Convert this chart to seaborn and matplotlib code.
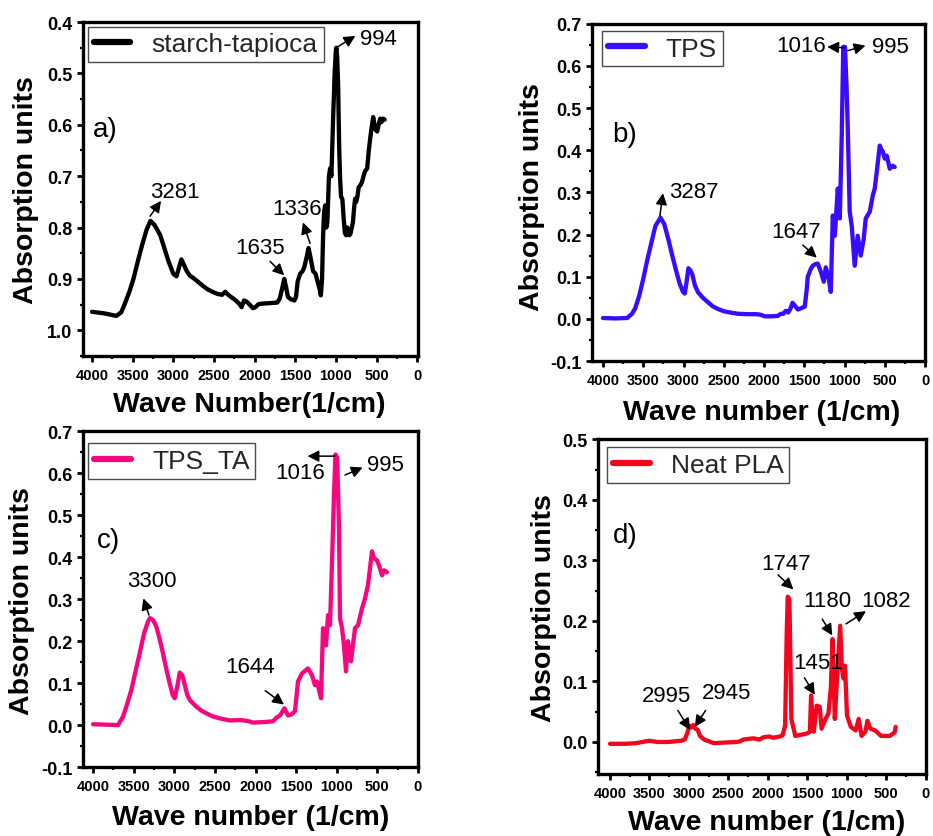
import numpy as np
import pandas as pd
import matplotlib
matplotlib.use("Agg")
import matplotlib.pyplot as plt
from matplotlib.ticker import MultipleLocator, FormatStrFormatter
import seaborn as sns

# ---------------- spectra (wavenumber in 1/cm, absorbance) ----------------
starch_wn = [4000, 3850, 3700, 3640, 3600, 3540, 3490, 3430, 3385, 3330, 3281, 3230,
             3160, 3110, 3060, 3000, 2960, 2925, 2900, 2870, 2840, 2800, 2740, 2700,
             2640, 2580, 2520, 2460, 2400, 2360, 2330, 2290, 2230, 2180, 2160, 2130,
             2100, 2060, 2020, 1990, 1950, 1900, 1800, 1720, 1690, 1660, 1635, 1610,
             1590, 1550, 1510, 1490, 1470, 1440, 1410, 1390, 1360, 1336, 1310, 1280,
             1250, 1225, 1200, 1185, 1170, 1157, 1145, 1132, 1118, 1105, 1085, 1071,
             1055, 1034, 1015, 1000, 994, 985, 972, 960, 948, 936, 920, 905, 890,
             875, 860, 848, 835, 820, 805, 790, 775, 763, 750, 735, 720, 700, 680,
             660, 640, 615, 595, 578, 560, 541, 525, 510, 492, 475, 455, 440, 418, 400]
starch_ab = [0.964, 0.967, 0.972, 0.965, 0.950, 0.925, 0.900, 0.862, 0.835, 0.805, 0.787, 0.795,
             0.815, 0.840, 0.865, 0.890, 0.895, 0.875, 0.862, 0.872, 0.883, 0.893, 0.900, 0.905,
             0.913, 0.920, 0.925, 0.929, 0.931, 0.925, 0.930, 0.935, 0.942, 0.950, 0.955, 0.942,
             0.944, 0.950, 0.957, 0.955, 0.949, 0.948, 0.947, 0.946, 0.938, 0.918, 0.900, 0.918,
             0.935, 0.940, 0.942, 0.935, 0.905, 0.890, 0.885, 0.878, 0.858, 0.840, 0.860, 0.885,
             0.890, 0.905, 0.920, 0.932, 0.900, 0.815, 0.770, 0.757, 0.800, 0.790, 0.700, 0.685,
             0.700, 0.588, 0.500, 0.455, 0.450, 0.465, 0.524, 0.640, 0.705, 0.740, 0.745, 0.780, 0.810,
             0.815, 0.800, 0.810, 0.815, 0.812, 0.800, 0.790, 0.760, 0.744, 0.750, 0.740, 0.722, 0.718, 0.712,
             0.700, 0.690, 0.685, 0.650, 0.627, 0.605, 0.585, 0.600, 0.610, 0.613, 0.600, 0.588, 0.595, 0.588, 0.590]

tps_wn = [4000, 3850, 3700, 3640, 3600, 3550, 3500, 3450, 3400, 3350, 3287, 3240,
          3190, 3140, 3100, 3050, 3010, 2985, 2960, 2940, 2915, 2890, 2860, 2820,
          2760, 2700, 2640, 2580, 2500, 2420, 2325, 2200, 2100, 2050, 1990, 1900,
          1830, 1790, 1760, 1730, 1700, 1670, 1647, 1620, 1580, 1530, 1494, 1470,
          1457, 1420, 1395, 1360, 1333, 1295, 1258, 1233, 1215, 1196, 1171, 1146,
          1121, 1084, 1059, 1035, 1016, 995, 975, 960, 936, 911, 874, 837, 799,
          762, 737, 687, 650, 625, 600, 563, 540, 526, 501, 476, 455, 439, 402, 377]
tps_ab = [0.002, 0.001, 0.002, 0.012, 0.025, 0.055, 0.095, 0.140, 0.180, 0.220, 0.240, 0.225,
          0.190, 0.150, 0.120, 0.085, 0.065, 0.060, 0.090, 0.120, 0.115, 0.105, 0.080, 0.063,
          0.050, 0.040, 0.030, 0.024, 0.018, 0.015, 0.012, 0.011, 0.011, 0.010, 0.006, 0.006,
          0.007, 0.012, 0.012, 0.019, 0.015, 0.025, 0.038, 0.032, 0.022, 0.026, 0.029, 0.070,
          0.100, 0.118, 0.126, 0.130, 0.131, 0.112, 0.088, 0.122, 0.110, 0.095, 0.064, 0.245,
          0.197, 0.309, 0.238, 0.435, 0.645, 0.645, 0.550, 0.451, 0.254, 0.221, 0.126, 0.197, 0.150,
          0.190, 0.238, 0.254, 0.292, 0.309, 0.349, 0.411, 0.400, 0.397, 0.380, 0.387, 0.370, 0.356, 0.363, 0.360]

tpsta_wn = [4000, 3850, 3692, 3631, 3580, 3528, 3480, 3426, 3370, 3323, 3300, 3260,
            3221, 3180, 3139, 3100, 3056, 3020, 2995, 2960, 2933, 2900, 2870, 2840,
            2810, 2760, 2728, 2670, 2605, 2530, 2441, 2314, 2195, 2100, 2031, 1908,
            1785, 1740, 1698, 1644, 1600, 1560, 1514, 1477, 1428, 1354, 1305, 1268,
            1243, 1194, 1169, 1132, 1108, 1083, 1058, 1034, 1016, 995, 972, 960,
            935, 911, 886, 862, 825, 775, 738, 689, 652, 615, 566, 542, 505, 480,
            443, 418, 382]
tpsta_ab = [0.002, 0.001, 0.000, 0.020, 0.050, 0.084, 0.125, 0.171, 0.220, 0.247, 0.255, 0.250,
            0.235, 0.205, 0.171, 0.135, 0.099, 0.072, 0.064, 0.095, 0.125, 0.118, 0.095, 0.072,
            0.060, 0.050, 0.044, 0.035, 0.028, 0.021, 0.016, 0.011, 0.012, 0.010, 0.006, 0.007,
            0.009, 0.018, 0.023, 0.040, 0.023, 0.025, 0.033, 0.104, 0.123, 0.135, 0.119, 0.095,
            0.104, 0.064, 0.231, 0.190, 0.262, 0.238, 0.390, 0.548, 0.645, 0.638, 0.470, 0.255,
            0.231, 0.190, 0.128, 0.200, 0.152, 0.231, 0.238, 0.278, 0.302, 0.334, 0.414, 0.398, 0.393, 0.381,
            0.357, 0.369, 0.364]

pla_wn = [4000, 3800, 3671, 3506, 3400, 3259, 3100, 3053, 3020, 2995, 2970, 2945,
          2920, 2888, 2860, 2806, 2683, 2550, 2393, 2353, 2312, 2250, 2183, 2106,
          2050, 1985, 1930, 1850, 1812, 1780, 1760, 1747, 1726, 1701, 1651, 1503,
          1466, 1451, 1430, 1417, 1380, 1342, 1318, 1268, 1231, 1200, 1180, 1150,
          1120, 1082, 1060, 1040, 1021, 996, 947, 885, 848, 811, 762, 737, 700,
          638, 564, 452, 391, 378]
pla_ab = [-0.003, -0.003, -0.002, 0.002, 0.000, 0.000, 0.002, 0.004, 0.015, 0.027, 0.024, 0.028,
          0.022, 0.020, 0.010, 0.004, -0.002, -0.001, 0.000, 0.001, 0.004, 0.005, 0.006, 0.004,
          0.008, 0.009, 0.007, 0.009, 0.011, 0.027, 0.180, 0.240, 0.236, 0.038, 0.010, 0.014,
          0.017, 0.077, 0.030, 0.017, 0.060, 0.058, 0.022, 0.038, 0.047, 0.090, 0.170, 0.038,
          0.110, 0.192, 0.120, 0.105, 0.126, 0.044, 0.025, 0.019, 0.038, 0.010, 0.017, 0.035, 0.022,
          0.019, 0.010, 0.010, 0.016, 0.025]

# peak labels: (text, text x, text y, arrow tail x, tail y, head x, head y) in data units
starch_peaks = [("3281", 2980, 0.730, 3286, 0.778, 3150, 0.748),
                ("1635", 1932, 0.839, 1809, 0.866, 1635, 0.893),
                ("1336", 1480, 0.763, 1317, 0.831, 1405, 0.790),
                ("994", 480, 0.432, 985, 0.449, 760, 0.427)]
tps_peaks = [("3287", 2870, 0.302, 3293, 0.245, 3256, 0.298),
             ("1647", 1605, 0.207, 1519, 0.175, 1345, 0.145),
             ("1016", 1540, 0.648, 1000, 0.643, 1215, 0.645),
             ("995", 430, 0.646, 960, 0.636, 740, 0.648)]
tpsta_peaks = [("3300", 3274, 0.345, 3311, 0.262, 3380, 0.302),
               ("1644", 2068, 0.140, 1880, 0.082, 1649, 0.049),
               ("1016", 1452, 0.601, 1022, 0.641, 1360, 0.641),
               ("995", 406, 0.620, 898, 0.596, 680, 0.614)]
pla_peaks = [("1747", 1763, 0.294, 1870, 0.276, 1676, 0.252),
             ("1180", 1244, 0.233, 1310, 0.203, 1182, 0.176),
             ("1082", 502, 0.233, 1009, 0.195, 755, 0.216),
             ("1451", 1367, 0.132, 1535, 0.106, 1404, 0.078),
             ("2995", 3283, 0.076, 3140, 0.052, 2986, 0.020),
             ("2945", 2517, 0.081, 2789, 0.052, 2925, 0.025)]

x_ticks = [0, 500, 1000, 1500, 2000, 2500, 3000, 3500, 4000]

sns.set_theme(style="ticks")
plt.rcParams["font.family"] = ["Liberation Sans", "DejaVu Sans"]
plt.rcParams["axes.unicode_minus"] = False

fig = plt.figure(figsize=(9.33, 8.37), dpi=100)
fig.patch.set_facecolor("white")


def draw_panel(rect, wn, ab, color, name, tag, tag_xy, xlim, ylim, yticks,
               xlabel, xlabel_xy, ylabel_xy, legend_anchor, peaks):
    ax = fig.add_axes(rect)
    df = pd.DataFrame({"wn": wn, "ab": ab})
    sns.lineplot(data=df, x="wn", y="ab", ax=ax, color=color, lw=3.1,
                 sort=False, estimator=None, label=name)
    ax.set_xlim(*xlim)
    ax.set_ylim(*ylim)
    ax.set_xticks(x_ticks)
    ax.set_yticks(yticks)
    ax.yaxis.set_major_formatter(FormatStrFormatter("%.1f"))
    ax.yaxis.set_minor_locator(MultipleLocator(0.05))
    ax.xaxis.set_minor_locator(MultipleLocator(250))
    for s in ax.spines.values():
        s.set_visible(True)
        s.set_linewidth(2.4)
        s.set_color("black")
    ax.tick_params(axis="both", which="major", direction="out", length=4.5,
                   width=2.0, color="black", top=False, right=False)
    ax.tick_params(axis="both", which="minor", direction="out", length=2.5,
                   width=1.6, color="black", top=False, right=False)
    ax.tick_params(axis="x", labelsize=10.5, pad=4)
    ax.tick_params(axis="y", labelsize=13, pad=3)
    for t in ax.get_xticklabels() + ax.get_yticklabels():
        t.set_fontweight("bold")
        t.set_color("black")

    ax.set_xlabel(xlabel, fontsize=20.5, fontweight="bold", color="black")
    ax.xaxis.label.set_va("center")
    ax.xaxis.set_label_coords(*xlabel_xy)
    ax.set_ylabel("Absorption units", fontsize=20.5, fontweight="bold", color="black")
    ax.yaxis.label.set_va("center")
    ax.yaxis.set_label_coords(*ylabel_xy)

    # panel letter
    ax.text(tag_xy[0], tag_xy[1], tag, transform=ax.transAxes, fontsize=20,
            ha="left", va="center", color="black")

    leg = ax.legend(loc="upper left", bbox_to_anchor=legend_anchor, borderaxespad=0,
                    fontsize=19, handlelength=1.4, handletextpad=0.8, borderpad=0.22,
                    fancybox=False, framealpha=1, edgecolor="#4a4a4a")
    leg.get_frame().set_linewidth(1.0)
    for h in leg.get_lines():
        h.set_linewidth(4.5)

    # peak positions with pointer arrows
    for lab, tx, ty, x0, y0, x1, y1 in peaks:
        ax.annotate("", xy=(x1, y1), xytext=(x0, y0),
                    arrowprops=dict(arrowstyle="-|>", color="black", lw=1.1,
                                    mutation_scale=17, shrinkA=0, shrinkB=0))
        ax.text(tx, ty, lab, fontsize=16, ha="center", va="center", color="black")
    return ax


draw_panel([0.089, 0.5735, 0.359, 0.399], starch_wn, starch_ab, "black",
           "starch-tapioca", "a)", (0.03, 0.68), (4110, -10), (1.05, 0.4),
           [0.4, 0.5, 0.6, 0.7, 0.8, 0.9, 1.0], "Wave Number(1/cm)",
           (0.496, -0.144), (-0.170, 0.5), (0.014, 0.986), starch_peaks)

draw_panel([0.6345, 0.5675, 0.357, 0.403], tps_wn, tps_ab, "#3a0cff",
           "TPS", "b)", (0.06, 0.674), (4137, 0), (-0.1, 0.7),
           [-0.1, 0.0, 0.1, 0.2, 0.3, 0.4, 0.5, 0.6, 0.7], "Wave number (1/cm)",
           (0.51, -0.151), (-0.180, 0.49), (0.03, 0.979), tps_peaks)

draw_panel([0.089, 0.0824, 0.359, 0.401], tpsta_wn, tpsta_ab, "#f5087f",
           "TPS_TA", "c)", (0.042, 0.676), (4123, 0), (-0.1, 0.7),
           [-0.1, 0.0, 0.1, 0.2, 0.3, 0.4, 0.5, 0.6, 0.7], "Wave number (1/cm)",
           (0.50, -0.149), (-0.182, 0.497), (0.015, 0.964), tpsta_peaks)

draw_panel([0.641, 0.074, 0.351, 0.40], pla_wn, pla_ab, "#f2061e",
           "Neat PLA", "d)", (0.045, 0.713), (4152, 0), (-0.053, 0.5),
           [0.0, 0.1, 0.2, 0.3, 0.4, 0.5], "Wave number (1/cm)",
           (0.515, -0.143), (-0.165, 0.499), (0.027, 0.976), pla_peaks)

fig.savefig("out.png", dpi=100, facecolor="white")
